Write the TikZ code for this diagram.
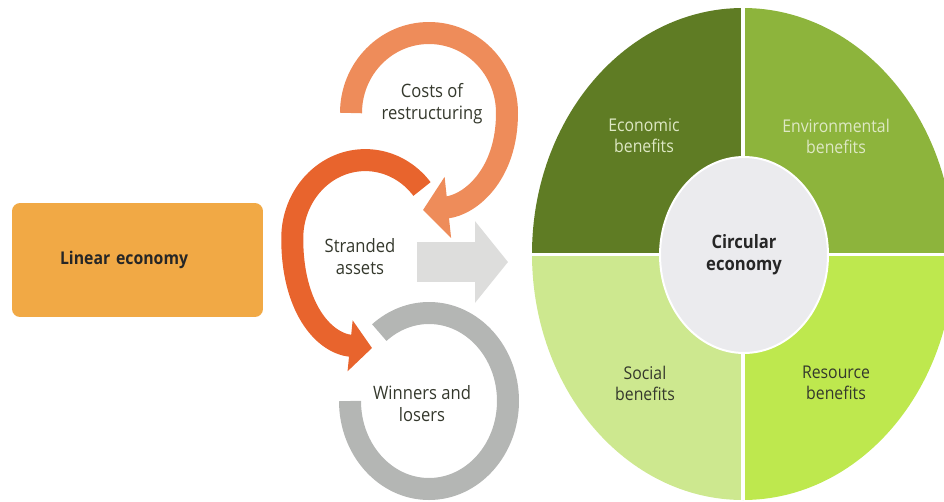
\documentclass[tikz,border=0pt]{standalone}
\usepackage{fontspec}
\newfontfamily\labelfont{Open Sans}[FakeStretch=0.9]
\usetikzlibrary{arrows.meta, shapes.geometric}

\definecolor{linearfill}{RGB}{241,169,69}
\definecolor{costorange}{RGB}{238,140,90}
\definecolor{strandorange}{RGB}{232,100,45}
\definecolor{winnergray}{RGB}{180,182,180}
\definecolor{shiftgray}{RGB}{221,221,220}
\definecolor{econgreen}{RGB}{95,124,36}
\definecolor{envgreen}{RGB}{141,180,60}
\definecolor{socgreen}{RGB}{205,232,143}
\definecolor{resgreen}{RGB}{190,232,78}
\definecolor{coregray}{RGB}{235,235,238}
\definecolor{lighttext}{RGB}{222,232,196}
\definecolor{darktext}{RGB}{52,56,44}

\tikzstyle{linearbox} = [rectangle, rounded corners=0.16cm, fill=linearfill, minimum width=5.02cm, minimum height=2.28cm, text width=3.1cm, inner xsep=0.96cm, align=left, font=\labelfont\bfseries\fontsize{10}{12}\selectfont, text=black!85]
\tikzstyle{cycletext} = [align=center, font=\labelfont\fontsize{10.5}{12.5}\selectfont, text=darktext]
\tikzstyle{benefit} = [align=center, font=\labelfont\fontsize{10}{12}\selectfont, text=darktext]
\tikzstyle{benefitlight} = [benefit, text=lighttext]
\tikzstyle{corenode} = [ellipse, fill=coregray, draw=white, line width=0.04cm, minimum width=3.36cm, minimum height=3.92cm, align=center, font=\labelfont\bfseries\fontsize{10.5}{12.5}\selectfont, text=black!85]
\tikzstyle{cyclearc} = [line width=0.44cm]
\tikzstyle{shiftarrow} = [line width=0.8cm, draw=shiftgray, -{Triangle[length=0.66cm, width=1.6cm]}]

\begin{document}
\begin{tikzpicture}[x=0.02cm, y=-0.02cm]
    \clip (0,0) rectangle (944,501);

    \node (linear) [linearbox] at (137.5,260) {Linear economy};

    \coordinate (costring) at (429,113);
    \coordinate (strandring) at (365,238);
    \coordinate (winring) at (429,401);
    \coordinate (shiftstart) at (417,262);
    \coordinate (shiftend) at (508,262);

    \draw [shiftarrow] (shiftstart) -- (shiftend);

    \draw [cyclearc, draw=winnergray] (winring) ++(-79,0)
        arc [start angle=180, end angle=-129, x radius=79, y radius=88];
    \draw [cyclearc, draw=strandorange, -{Triangle[length=0.44cm, width=1.0cm]}] (strandring) ++(57,-49)
        arc [start angle=-39, end angle=-180, x radius=73, y radius=78]
        .. controls (292,305) and (322,343) .. (372,348);
    \draw [cyclearc, draw=costorange, -{Triangle[length=0.5cm, width=1.2cm]}] (costring) ++(-78,0)
        arc [start angle=180, end angle=360, x radius=78, y radius=80]
        .. controls (507,175) and (470,205) .. (423,210);

    \node (costs) [cycletext] at (432,104) {Costs of\\restructuring};
    \node (stranded) [cycletext] at (360,257) {Stranded\\assets};
    \node (winners) [cycletext] at (422,404) {Winners and\\losers};

    \begin{scope}
        \clip (743,254) ellipse [x radius=211, y radius=246];
        \fill [econgreen] (520,0) rectangle (743,254);
        \fill [envgreen] (743,0) rectangle (960,254);
        \fill [socgreen] (520,254) rectangle (743,501);
        \fill [resgreen] (743,254) rectangle (960,501);
        \draw [white, line width=0.07cm] (743,0) -- (743,501);
        \draw [white, line width=0.06cm] (520,254) -- (960,254);
    \end{scope}

    \node (core) [corenode] at (744,255) {Circular\\economy};
    \node (economic) [benefitlight] at (644,136) {Economic\\benefits};
    \node (environ) [benefitlight] at (836,136) {Environmental\\benefits};
    \node (social) [benefit] at (645,383) {Social\\benefits};
    \node (resource) [benefit] at (836,383) {Resource\\benefits};
\end{tikzpicture}
\end{document}
